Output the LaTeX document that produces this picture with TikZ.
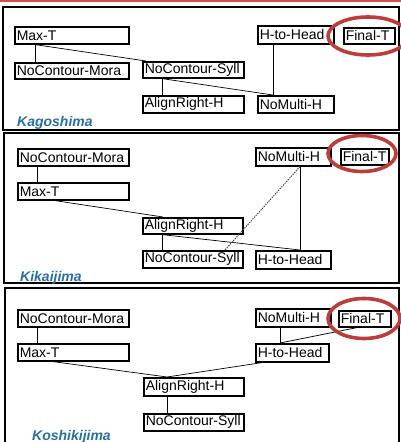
\documentclass[tikz,border=0pt]{standalone}
\usepackage{fontspec}
\setmainfont{Liberation Sans}
\definecolor{ringred}{RGB}{186,62,60}
\definecolor{placeblue}{RGB}{42,110,160}
\definecolor{topred}{RGB}{205,80,80}
\tikzset{
  rulebox/.style={draw, line width=1.6pt, anchor=north west, inner xsep=2pt, inner ysep=0pt,
    align=left, font=\fontsize{14}{15}\selectfont},
  panel/.style={draw, line width=1.8pt},
  ring/.style={draw=ringred, line width=3.6pt},
  link/.style={line width=0.7pt},
  dotlink/.style={line width=1pt, black!70, dash pattern=on 1.4pt off 1pt},
  place/.style={anchor=base west, text=placeblue, inner sep=0pt,
    font=\fontsize{14}{15}\selectfont\bfseries\itshape}
}
\newcommand{\rb}[6]{\node[rulebox, text width=#4pt-4pt, minimum height=#5pt] (#1) at (#2,#3) {#6};}
\begin{document}
\begin{tikzpicture}[x=1pt,y=-1pt]
\useasboundingbox (0,0) rectangle (401,442);
\fill[topred] (0,0) rectangle (401,1.6);

% frames
\draw[panel] (3,7) rectangle (399,130);
\draw[panel] (4,133) rectangle (399,283);
\draw[panel] (5,288) rectangle (399,452);

% Kagoshima
\rb{k1max}{14}{26}{114}{17}{Max-T}
\rb{k1mora}{14}{62}{114}{16}{NoContour-Mora}
\rb{k1syll}{142}{61}{101}{16}{NoContour-Syll}
\rb{k1align}{142}{95}{101}{17}{AlignRight-H}
\rb{k1multi}{257}{95}{76}{17}{NoMulti-H}
\rb{k1head}{257}{25}{76}{18}{H-to-Head}
\rb{k1final}{343}{27}{51}{16}{Final-T}
\draw[link] ([xshift=21pt]k1max.south west) -- ([xshift=21pt]k1mora.north west);
\draw[link] ([xshift=21pt]k1max.south west) -- ([xshift=4pt]k1syll.north west);
\draw[link] ([xshift=20pt]k1syll.south west) -- ([xshift=20pt]k1align.north west);
\draw[link] ([xshift=20pt]k1syll.south west) -- ([xshift=16pt]k1multi.north west);
\draw[link] ([xshift=16pt]k1head.south west) -- ([xshift=16pt]k1multi.north west);
\draw[ring] (368,36) ellipse [x radius=40, y radius=19];
\node[place] (lab1) at (17,126) {Kagoshima};

% Kikaijima
\rb{k2mora}{17}{148}{111}{17}{NoContour-Mora}
\rb{k2max}{17}{182}{111}{17}{Max-T}
\rb{k2align}{142}{217}{100}{16}{AlignRight-H}
\rb{k2syll}{142}{250}{100}{17}{NoContour-Syll}
\rb{k2head}{255}{250}{75}{18}{H-to-Head}
\rb{k2multi}{255}{147}{75}{18}{NoMulti-H}
\rb{k2final}{340}{148}{48}{16}{Final-T}
\draw[link] ([xshift=20pt]k2mora.south west) -- ([xshift=20pt]k2max.north west);
\draw[link] ([xshift=38pt]k2max.south west) -- ([xshift=21pt]k2align.north west);
\draw[link] ([xshift=20pt]k2align.south west) -- ([xshift=20pt]k2syll.north west);
\draw[link] ([xshift=20pt]k2align.south west) -- ([xshift=45pt]k2head.north west);
\draw[link] ([xshift=45pt]k2multi.south west) -- ([xshift=45pt]k2head.north west);
\draw[dotlink] ([xshift=45pt]k2multi.south west) -- ([xshift=83pt]k2syll.north west);
\draw[ring] (362,153.5) ellipse [x radius=34, y radius=18];
\node[place] (lab2) at (20,281) {Kikaijima};

% Koshikijima
\rb{k3mora}{17}{309}{111}{17}{NoContour-Mora}
\rb{k3max}{17}{343}{111}{17}{Max-T}
\rb{k3align}{143}{377}{100}{18}{AlignRight-H}
\rb{k3syll}{143}{413}{100}{17}{NoContour-Syll}
\rb{k3head}{255}{343}{73}{18}{H-to-Head}
\rb{k3multi}{255}{308}{75}{18}{NoMulti-H}
\rb{k3final}{338}{310}{52}{16}{Final-T}
\draw[link] ([xshift=20pt]k3mora.south west) -- ([xshift=20pt]k3max.north west);
\draw[link] ([xshift=36pt]k3max.south west) -- ([xshift=24pt]k3align.north west);
\draw[link] ([xshift=7pt]k3head.south west) -- ([xshift=24pt]k3align.north west);
\draw[link] ([xshift=24pt]k3align.south west) -- ([xshift=24pt]k3syll.north west);
\draw[link] ([xshift=25pt]k3multi.south west) -- ([xshift=25pt]k3head.north west);
\draw[link] ([xshift=19pt]k3final.south west) -- ([xshift=25pt]k3head.north west);
\draw[ring] (364,318.5) ellipse [x radius=36, y radius=20];
\node[place] (lab3) at (32,440) {Koshikijima};
\end{tikzpicture}
\end{document}
